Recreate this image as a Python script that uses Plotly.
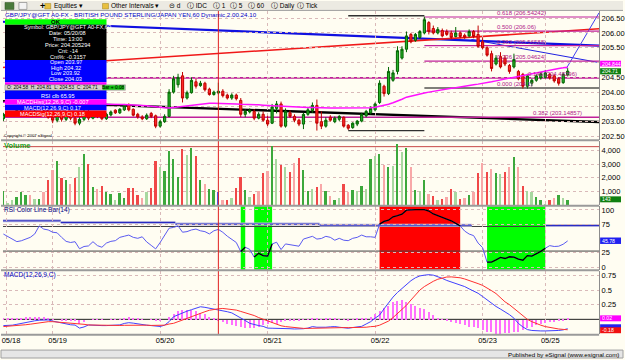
import plotly.graph_objects as go

# ---------------- DATA ----------------
date_labels = ["05/18", "05/19", "05/20", "05/21", "05/22", "05/23", "05/25"]
day_start_bar = [0.6, 11, 35, 59, 83, 107, 121]

opens = [
    203.10, 203.25, 203.28, 203.30, 203.38, 203.45, 203.50, 203.42, 203.46, 203.52,
    203.40, 203.15, 203.05, 203.30, 203.08, 203.22, 203.12, 202.95, 203.08, 203.35,
    203.12, 203.25, 203.18, 203.10, 203.23, 203.39, 203.30, 203.40, 203.56, 203.42,
    203.25, 203.16, 203.10, 203.28, 203.20, 202.85, 203.00, 203.18, 204.00, 204.25,
    204.55, 203.80, 203.98, 204.35, 204.22, 204.30, 204.10, 203.92, 203.97, 204.03,
    203.90, 203.80, 203.90, 203.72, 203.25, 203.33, 203.35, 203.12, 203.25, 203.05,
    202.95, 203.45, 203.60, 202.85, 203.30, 203.18, 203.05, 202.92, 203.25, 203.38,
    203.55, 203.00, 202.85, 203.15, 203.00, 203.08, 203.15, 202.88, 202.80, 202.92,
    203.02, 203.20, 203.30, 203.40, 203.65, 204.20, 203.95, 204.40, 204.70, 205.15,
    205.45, 205.95, 205.75, 205.85, 206.00, 206.35, 206.15, 206.00, 206.08, 206.05,
    206.00, 205.88, 206.00, 205.92, 205.90, 206.05, 205.95, 205.70, 205.50, 205.30,
    204.95, 205.20, 205.15, 204.90, 204.85, 204.70, 204.60, 204.20, 204.30, 204.40,
    204.48, 204.50, 204.60, 204.55, 204.45, 204.32, 204.58]
highs = [
    203.30, 203.32, 203.35, 203.42, 203.50, 203.55, 203.54, 203.50, 203.55, 203.56,
    203.45, 203.25, 203.40, 203.35, 203.30, 203.28, 203.18, 203.15, 203.45, 203.40,
    203.30, 203.30, 203.22, 203.30, 203.38, 203.42, 203.46, 203.60, 203.62, 203.45,
    203.30, 203.22, 203.28, 203.33, 203.24, 203.06, 203.25, 204.10, 204.55, 204.62,
    204.68, 204.05, 204.50, 204.45, 204.38, 204.35, 204.15, 204.05, 204.32, 204.10,
    203.95, 203.96, 203.95, 203.80, 203.42, 203.45, 203.42, 203.32, 203.35, 203.20,
    203.60, 203.70, 203.68, 203.45, 203.38, 203.25, 203.10, 203.30, 203.50, 203.65,
    203.75, 203.35, 203.15, 203.22, 203.18, 203.22, 203.18, 202.92, 202.98, 203.06,
    203.30, 203.40, 203.52, 203.65, 204.40, 204.25, 204.85, 204.75, 205.55, 205.55,
    206.05, 206.00, 206.00, 206.10, 206.55, 206.40, 206.25, 206.20, 206.15, 206.12,
    206.08, 206.20, 206.05, 205.98, 206.12, 206.10, 206.25, 205.85, 205.55, 205.40,
    205.25, 205.35, 205.25, 204.95, 205.30, 204.75, 204.65, 204.62, 204.45, 204.60,
    204.68, 204.75, 204.65, 204.60, 204.50, 204.66, 204.81]
lows = [
    203.02, 203.18, 203.20, 203.25, 203.32, 203.40, 203.38, 203.36, 203.40, 203.35,
    203.10, 202.95, 202.98, 203.00, 203.02, 203.05, 202.88, 202.88, 203.02, 203.05,
    203.08, 203.12, 203.05, 203.06, 203.18, 203.26, 203.26, 203.36, 203.35, 203.18,
    203.10, 203.05, 203.06, 203.12, 202.78, 202.80, 202.96, 203.15, 203.95, 204.15,
    203.65, 203.75, 203.95, 204.12, 204.18, 204.02, 203.88, 203.88, 203.92, 203.82,
    203.75, 203.74, 203.72, 203.16, 203.15, 203.28, 203.05, 203.08, 203.00, 202.85,
    202.92, 203.28, 202.80, 202.80, 203.12, 202.98, 202.85, 202.75, 203.20, 203.30,
    202.70, 202.75, 202.80, 203.00, 202.95, 203.02, 202.80, 202.72, 202.76, 202.85,
    202.98, 203.15, 203.25, 203.35, 203.60, 203.85, 203.90, 204.35, 204.60, 205.10,
    205.35, 205.65, 205.70, 205.80, 205.95, 205.95, 205.95, 205.95, 205.85, 205.90,
    205.80, 205.85, 205.82, 205.80, 205.85, 205.82, 205.50, 205.45, 205.20, 204.70,
    204.90, 204.80, 204.88, 204.62, 204.80, 204.40, 204.12, 204.12, 204.20, 204.35,
    204.42, 204.45, 204.42, 204.32, 204.22, 204.28, 204.53]
closes = [
    203.25, 203.28, 203.30, 203.38, 203.45, 203.50, 203.42, 203.46, 203.52, 203.40,
    203.15, 203.05, 203.30, 203.08, 203.22, 203.12, 202.95, 203.08, 203.35, 203.12,
    203.25, 203.18, 203.10, 203.25, 203.33, 203.30, 203.42, 203.55, 203.40, 203.22,
    203.16, 203.10, 203.22, 203.18, 202.85, 203.00, 203.18, 204.00, 204.45, 204.50,
    203.80, 203.98, 204.40, 204.20, 204.30, 204.08, 203.92, 204.00, 204.03, 203.88,
    203.80, 203.90, 203.78, 203.25, 203.35, 203.38, 203.12, 203.25, 203.05, 202.92,
    203.50, 203.60, 202.85, 203.35, 203.18, 203.05, 202.92, 203.25, 203.40, 203.55,
    202.95, 202.85, 203.05, 203.05, 203.12, 203.18, 202.85, 202.78, 202.95, 203.02,
    203.25, 203.35, 203.45, 203.60, 204.30, 203.95, 204.70, 204.65, 205.40, 205.45,
    205.90, 205.70, 205.95, 206.05, 206.45, 206.05, 206.00, 206.12, 205.90, 205.95,
    205.85, 206.00, 205.88, 205.85, 206.05, 205.88, 205.55, 205.50, 205.25, 204.80,
    205.15, 204.85, 204.95, 204.70, 205.10, 204.45, 204.20, 204.55, 204.40, 204.55,
    204.62, 204.65, 204.48, 204.38, 204.30, 204.60, 204.71]
ma_values = [
    203.66, 203.66, 203.65, 203.65, 203.65, 203.64, 203.64, 203.64, 203.63, 203.63,
    203.63, 203.62, 203.62, 203.62, 203.61, 203.61, 203.61, 203.60, 203.60, 203.60,
    203.60, 203.60, 203.59, 203.59, 203.59, 203.58, 203.58, 203.58, 203.57, 203.57,
    203.56, 203.55, 203.54, 203.53, 203.51, 203.49, 203.47, 203.46, 203.48, 203.50,
    203.52, 203.54, 203.56, 203.58, 203.60, 203.62, 203.62, 203.62, 203.62, 203.61,
    203.61, 203.60, 203.60, 203.59, 203.59, 203.58, 203.58, 203.57, 203.56, 203.55,
    203.54, 203.54, 203.53, 203.52, 203.52, 203.51, 203.50, 203.49, 203.48, 203.48,
    203.47, 203.47, 203.46, 203.46, 203.46, 203.46, 203.45, 203.45, 203.45, 203.46,
    203.46, 203.46, 203.47, 203.49, 203.52, 203.55, 203.59, 203.64, 203.69, 203.76,
    203.83, 203.87, 203.90, 203.93, 203.97, 204.00, 204.03, 204.06, 204.08, 204.10,
    204.13, 204.15, 204.18, 204.20, 204.23, 204.25, 204.27, 204.29, 204.32, 204.35,
    204.38, 204.41, 204.45, 204.48, 204.51, 204.55, 204.58, 204.61, 204.64, 204.67,
    204.70, 204.73, 204.76, 204.78, 204.80, 204.82, 204.844]
volume = [
    1070, 150, 420, 570, 1000, 780, 780, 490, 490, 1000,
    1820, 2590, 3250, 1990, 1870, 1580, 1990, 2760, 3730, 3050,
    1360, 1190, 1380, 980, 850, 370, 900, 510, 1240, 1290,
    780, 540, 980, 1240, 3270, 2830, 2540, 3990, 3390, 2040,
    4120, 3660, 4170, 3630, 1820, 1580, 1190, 1090, 950, 370,
    400, 540, 1270, 2040, 1140, 590, 830, 1020, 2350, 2540,
    4330, 3370, 2910, 2830, 2450, 3120, 3440, 2590, 1070, 1220,
    1300, 1560, 1020, 660, 420, 540, 1580, 1000, 1140, 1070,
    1430, 1190, 3390, 3630, 3730, 2910, 2830, 2880, 4450, 3900,
    4170, 2760, 1140, 1020, 1870, 850, 660, 350, 440, 590,
    1190, 1000, 490, 540, 780, 980, 2350, 3120, 2450, 2640,
    2350, 2250, 2400, 2830, 3560, 2790, 1380, 1070, 980, 590,
    350, 100, 370, 550, 780, 540, 420]
volume_kind = ("GggGGGrgGr" "RrGRGrRgGR" "GrRGGgGGRR" "RrgRRgGGGG" "RgGRGrGGBr"
               "RgRRGgRrRr" "GgRgRrRGGg" "RrGrGgRrGg" "GgGgGrGgGg" "GrGgGrRgRr"
               "RgRrGrRrRr" "GgRrGrRggG" "GgRrGgG")
rsi = [
    57.8, 53, 48, 44.5, 46, 49, 52, 58, 72, 66.5,
    65, 61, 60, 52, 45, 43, 44.4, 32, 36, 37,
    44.4, 37.5, 34.7, 42, 45, 46.2, 52, 54, 56, 52,
    50.3, 53, 44, 38, 31.8, 43, 55, 68, 69.4, 72,
    61, 62, 65, 66.5, 63.5, 62, 58, 63.5, 65.95, 60.8,
    54, 49, 43, 27.1, 34.7, 31, 17.4, 24, 20, 19.1,
    40.5, 43.4, 30.6, 40.5, 39.5, 38.7, 36.5, 49, 52, 53.8,
    49, 50, 53.8, 52, 47, 50.3, 47, 46.2, 50.3, 52,
    56, 53, 53, 52, 75.2, 79.9, 82, 88, 90, 92.5,
    99.5, 100.5, 100.7, 100.7, 100.5, 98, 93, 90, 87.5, 84,
    81, 77, 72, 63, 57.8, 55, 42, 34, 8.7, 8.7,
    12.5, 17, 15, 18, 17.5, 14, 12, 20, 19.1, 23,
    27.5, 33, 37.5, 36, 36.5, 40, 45.78]
rsi_zones = [(53, 54, "green"), (56, 60, "green"), (84, 102, "red"), (108, 121, "green")]
rsi_levels = [71, 28]
macd = [
    -0.107, -0.107, -0.10, -0.085, -0.068, -0.055, -0.035, -0.025, -0.015, -0.011,
    -0.011, -0.030, -0.045, -0.07, -0.085, -0.093, -0.098, -0.15, -0.13, -0.096,
    -0.10, -0.107, -0.107, -0.107, -0.105, -0.100, -0.095, -0.07, -0.057, -0.065,
    -0.08, -0.095, -0.10, -0.107, -0.115, -0.122, -0.10, -0.04, 0.045, 0.08,
    0.11, 0.14, 0.165, 0.19, 0.215, 0.205, 0.19, 0.18, 0.17, 0.15,
    0.13, 0.11, 0.07, 0.017, -0.02, -0.068, -0.09, -0.107, -0.12, -0.15,
    -0.152, -0.152, -0.155, -0.155, -0.16, -0.165, -0.169, -0.16, -0.15, -0.124,
    -0.135, -0.14, -0.135, -0.128, -0.124, -0.135, -0.145, -0.152, -0.14, -0.13,
    -0.12, -0.08, -0.04, 0.02, 0.073, 0.18, 0.29, 0.38, 0.46, 0.53,
    0.60, 0.66, 0.71, 0.742, 0.755, 0.763, 0.755, 0.73, 0.70, 0.665,
    0.64, 0.61, 0.585, 0.56, 0.52, 0.48, 0.445, 0.39, 0.33, 0.27,
    0.22, 0.175, 0.13, 0.08, 0.02, -0.07, -0.13, -0.175, -0.19, -0.198,
    -0.198, -0.198, -0.198, -0.195, -0.19, -0.18, -0.16]
macd_signal = [
    -0.124, -0.12, -0.115, -0.108, -0.10, -0.092, -0.083, -0.070, -0.058, -0.048,
    -0.040, -0.040, -0.045, -0.051, -0.058, -0.064, -0.070, -0.078, -0.085, -0.096,
    -0.098, -0.102, -0.105, -0.107, -0.107, -0.106, -0.105, -0.102, -0.10, -0.10,
    -0.10, -0.10, -0.10, -0.104, -0.107, -0.107, -0.100, -0.080, -0.068, -0.04,
    -0.01, 0.017, 0.045, 0.08, 0.102, 0.13, 0.155, 0.172, 0.18, 0.186,
    0.18, 0.17, 0.158, 0.135, 0.115, 0.09, 0.065, 0.03, 0.0, -0.03,
    -0.06, -0.085, -0.11, -0.124, -0.135, -0.145, -0.152, -0.155, -0.155, -0.152,
    -0.152, -0.150, -0.147, -0.144, -0.142, -0.141, -0.141, -0.142, -0.143, -0.142,
    -0.14, -0.135, -0.125, -0.12, -0.10, -0.07, -0.03, 0.03, 0.10, 0.17,
    0.24, 0.33, 0.42, 0.50, 0.56, 0.61, 0.65, 0.685, 0.71, 0.723,
    0.725, 0.72, 0.71, 0.69, 0.667, 0.64, 0.61, 0.58, 0.54, 0.49,
    0.44, 0.37, 0.30, 0.25, 0.19, 0.12, 0.06, 0.0, -0.04, -0.075,
    -0.10, -0.124, -0.14, -0.155, -0.165, -0.172, -0.178]
macd_hist = [
    0.017, 0.013, 0.015, 0.023, 0.032, 0.037, 0.048, 0.045, 0.043, 0.037,
    0.029, 0.010, 0.0, -0.019, -0.027, -0.029, -0.028, -0.072, -0.045, 0.0,
    -0.002, -0.005, -0.002, 0.0, 0.002, 0.006, 0.010, 0.032, 0.043, 0.035,
    0.020, 0.005, 0.0, -0.003, -0.008, -0.015, 0.0, 0.04, 0.10, 0.14,
    0.17, 0.17, 0.16, 0.14, 0.12, 0.09, 0.05, 0.02, -0.007, -0.04,
    -0.07, -0.09, -0.11, -0.13, -0.14, -0.15, -0.14, -0.12, -0.10, -0.08,
    -0.06, -0.067, -0.045, -0.031, -0.025, -0.02, -0.017, -0.005, 0.005, 0.028,
    0.017, 0.01, 0.012, 0.016, 0.018, 0.006, -0.004, -0.01, 0.003, 0.012,
    0.02, 0.02, 0.045, 0.10, 0.14, 0.20, 0.24, 0.30, 0.32, 0.33,
    0.30, 0.27, 0.24, 0.20, 0.18, 0.13, 0.073, 0.03, 0.006, -0.02,
    -0.04, -0.05, -0.08, -0.10, -0.12, -0.12, -0.14, -0.18, -0.21, -0.22,
    -0.24, -0.24, -0.23, -0.23, -0.21, -0.21, -0.18, -0.15, -0.12, -0.10,
    -0.07, -0.05, -0.04, -0.035, -0.03, -0.01, 0.02]
cursor_bar = 48

# drawn trendlines: (bar0, price0, bar1, price1, color, width)
trendlines = [
    (-0.5, 206.38, 133.0, 205.57, "#1010E0", 2.2),
    (-0.5, 204.83, 133.0, 206.14, "#F01818", 1.6),
    (-0.5, 203.69, 133.0, 202.99, "#000000", 2.4),
    (104.5, 205.78, 133.0, 205.00, "#2020E0", 1.0),
    (125.7, 204.80, 133.0, 206.68, "#4040F0", 1.0),
]
# horizontal drawn levels: (bar0, bar1, price, color, width)
hlevels = [
    (-0.5, 133.0, 204.48, "#C0209A", 1.6),
    (-0.5, 133.0, 203.15, "#C0209A", 1.6),
    (77, 94, 206.58, "#303030", 1.4),
    (77, 94, 202.70, "#303030", 1.4),
    (94, 133.0, 206.54, "#C0209A", 1.2),
    (94, 133.0, 206.06, "#C0209A", 1.2),
    (94, 133.0, 205.57, "#C0209A", 1.2),
    (94, 133.0, 205.05, "#C0209A", 1.2),
    (94, 133.0, 204.14, "#000000", 1.2),
]
fib_labels = [
    (110, 206.54, "0.618 (206.54242)"), (110, 206.06, "0.500 (206.06)"),
    (110, 205.57, "0.382 (205.56588)"), (110, 205.05, "0.236 (205.04624)"),
    (110, 204.14, "0.000 (204.1)"), (117, 204.48, "0.146 (204.48296)"),
    (118, 203.15, "0.382 (203.14857)"),
]
# ---------------- LAYOUT HELPERS ----------------
W, H = 625, 360
FONT = "Liberation Sans"
BG = "#FFFDF2"
GRID = "#D9B9B9"


def px(x):
    return x / W


def py(y):
    return 1 - y / H


N = len(closes)
bars = list(range(N))
xr = [-0.09, 133.02]

fig = go.Figure()
fig.add_trace(go.Candlestick(
    x=bars, open=opens, high=highs, low=lows, close=closes, xaxis="x", yaxis="y",
    increasing=dict(line=dict(color="#006400", width=1), fillcolor="#28B028"),
    decreasing=dict(line=dict(color="#C00000", width=1), fillcolor="#FF2828"),
    whiskerwidth=0, showlegend=False, hoverinfo="skip"))
fig.add_trace(go.Scatter(x=bars, y=ma_values, mode="lines", xaxis="x", yaxis="y",
                         line=dict(color="#FF10FF", width=1.5), showlegend=False, hoverinfo="skip"))

vcol = {"G": "#3CA83C", "g": "#A8D8A0", "R": "#F04848", "r": "#F8A8A8", "B": "#4060FF"}
fig.add_trace(go.Bar(x=bars, y=volume, marker=dict(color=[vcol[k] for k in volume_kind], line=dict(width=0)),
                     width=0.4, xaxis="x2", yaxis="y2", showlegend=False, hoverinfo="skip"))

fig.add_trace(go.Scatter(x=bars, y=rsi, mode="lines", xaxis="x3", yaxis="y3",
                         line=dict(color="#5A5AF0", width=1), showlegend=False, hoverinfo="skip"))
for z0, z1, _c in rsi_zones:
    fig.add_trace(go.Scatter(x=bars[z0:z1 + 1], y=rsi[z0:z1 + 1], mode="lines", xaxis="x3", yaxis="y3",
                             line=dict(color="#000000", width=1.3), showlegend=False, hoverinfo="skip"))

fig.add_trace(go.Bar(x=bars, y=macd_hist, marker=dict(color="#FF70FF", line=dict(width=0)), width=0.26,
                     xaxis="x4", yaxis="y4", showlegend=False, hoverinfo="skip"))
fig.add_trace(go.Scatter(x=bars, y=macd, mode="lines", xaxis="x4", yaxis="y4",
                         line=dict(color="#4040FF", width=1), showlegend=False, hoverinfo="skip"))
fig.add_trace(go.Scatter(x=bars, y=macd_signal, mode="lines", xaxis="x4", yaxis="y4",
                         line=dict(color="#FF3030", width=1), showlegend=False, hoverinfo="skip"))


def xax(anchor, labels=False):
    d = dict(domain=[px(2), px(601)], range=xr, anchor=anchor, showgrid=True, gridcolor=GRID,
             griddash="dot", gridwidth=1, tickmode="array", tickvals=day_start_bar,
             ticktext=date_labels, showticklabels=labels, ticks="", zeroline=False,
             showline=False, fixedrange=True,
             tickfont=dict(size=7.5, color="#000000", family=FONT))
    if labels:
        d["ticklabelshift"] = 5
    if anchor != "y4":
        d["matches"] = "x4"
    return d


def yax(anchor, domain, rng, vals, texts):
    return dict(domain=domain, range=rng, anchor=anchor, side="right", tickmode="array",
                tickvals=vals, ticktext=texts, showgrid=True, gridcolor=GRID, griddash="dot",
                zeroline=False, showline=True, linecolor="#8C8C8C", linewidth=1, ticks="",
                tickfont=dict(size=7.5, color="#000000", family=FONT), fixedrange=True)


price_ticks = [202.5, 203.0, 203.5, 204.0, 204.5, 205.0, 205.5, 206.0, 206.5]
hidden_price_ticks = [205.0]   # covered by the moving-average value flag in the original
vol_ticks = [1000, 2000, 3000, 4000]
rsi_ticks = [0, 25, 75, 100]
macd_ticks = [0.25, 0.5, 0.75]

fig.update_layout(
    width=W, height=H, margin=dict(l=0, r=0, t=0, b=0),
    paper_bgcolor=BG, plot_bgcolor=BG, showlegend=False, bargap=0,
    font=dict(family=FONT, size=7.5, color="#000000"),
    xaxis=dict(xax("y"), rangeslider=dict(visible=False)),
    xaxis2=xax("y2"), xaxis3=xax("y3"), xaxis4=xax("y4", labels=True),
    yaxis=yax("x", [py(140), py(10)], [202.387, 206.745], price_ticks,
              ["" if v in hidden_price_ticks else "%.2f" % v for v in price_ticks]),
    yaxis2=yax("x2", [py(206), py(141)], [-14, 4696], vol_ticks,
               ["{:,}".format(v) for v in vol_ticks]),
    yaxis3=yax("x3", [py(271), py(207)], [-4.7, 106.4], rsi_ticks, [str(v) for v in rsi_ticks]),
    yaxis4=yax("x4", [py(336), py(272)], [-0.254, 0.8305], macd_ticks,
               ["0.25", "0.5", "0.75"]),
)

shapes = []
# RSI colour zones
for z0, z1, c in rsi_zones:
    shapes.append(dict(type="rect", xref="x3", yref="y3 domain", x0=z0, x1=z1, y0=0, y1=1,
                       fillcolor="#00FF00" if c == "green" else "#FF0000", line=dict(width=0), layer="below"))
for lv in rsi_levels:
    shapes.append(dict(type="line", xref="x3 domain", yref="y3", x0=0, x1=1, y0=lv, y1=lv,
                       line=dict(color="#404040", width=1), layer="below"))
# RSI dynamic threshold (blue stepped line)
for b0, b1, v in [(-0.5, 12.8, 80.9), (12.8, 38.4, 78.1), (38.4, 70.6, 75.2), (70.6, 104.6, 73.4), (121, 133, 72.6)]:
    shapes.append(dict(type="line", xref="x3", yref="y3", x0=b0, x1=b1, y0=v, y1=v,
                       line=dict(color="#B8B8E0", width=3), layer="below"))
    shapes.append(dict(type="line", xref="x3", yref="y3", x0=b0, x1=b1, y0=v, y1=v,
                       line=dict(color="#2020C0", width=1), layer="below"))
# MACD zero line
shapes.append(dict(type="line", xref="x4 domain", yref="y4", x0=0, x1=1, y0=0, y1=0,
                   line=dict(color="#202020", width=1), layer="below"))
# volume reference line
shapes.append(dict(type="line", xref="x2 domain", yref="y2", x0=0, x1=1, y0=4270, y1=4270,
                   line=dict(color="#C84848", width=1), layer="below"))
# price drawings
for b0, p0, b1, p1, c, w in trendlines:
    shapes.append(dict(type="line", xref="x", yref="y", x0=b0, y0=p0, x1=b1, y1=p1,
                       line=dict(color=c, width=w), layer="below"))
for b0, b1, p, c, w in hlevels:
    shapes.append(dict(type="line", xref="x", yref="y", x0=b0, y0=p, x1=b1, y1=p,
                       line=dict(color=c, width=w), layer="below"))
# cursor
shapes.append(dict(type="line", xref="x", yref="paper", x0=cursor_bar, x1=cursor_bar, y0=py(336), y1=py(10),
                   line=dict(color="#E02020", width=1), layer="above"))
# panel separators
for yy in [140.5, 206.5, 271.5, 336.5]:
    shapes.append(dict(type="line", xref="paper", yref="paper", x0=0, x1=px(601), y0=py(yy), y1=py(yy),
                       line=dict(color="#9A9A9A", width=2)))
# toolbar and footer
shapes.append(dict(type="rect", xref="paper", yref="paper", x0=0, x1=1, y0=py(9.5), y1=1,
                   fillcolor="#ECEAE2", line=dict(width=0)))
shapes.append(dict(type="line", xref="paper", yref="paper", x0=0, x1=1, y0=py(9.5), y1=py(9.5),
                   line=dict(color="#A0A0A0", width=1)))
shapes.append(dict(type="rect", xref="paper", yref="paper", x0=0, x1=1, y0=0, y1=py(352),
                   fillcolor="#E6E6E6", line=dict(color="#A0A0A0", width=1)))

# info window
info_rows = [
    (18.5, 24.0, "#00FF00"), (24.0, 59.5, "#000000"), (59.5, 82.0, "#0000FF"),
    (82.0, 85.0, "#FF00FF"), (89.5, 99.0, "#0000FF"), (99.0, 104.5, "#FF00FF"),
    (104.5, 110.5, "#0000FF"), (110.5, 117.0, "#FF0000"),
]
for y0, y1, c in info_rows:
    shapes.append(dict(type="rect", xref="paper", yref="paper", x0=px(4), x1=px(106), y0=py(y1), y1=py(y0),
                       fillcolor=c, line=dict(width=0), layer="above"))
shapes.append(dict(type="rect", xref="paper", yref="paper", x0=px(4), x1=px(125), y0=py(90), y1=py(84.5),
                   fillcolor="#D8D5CC", line=dict(color="#808080", width=0.5), layer="above"))
shapes.append(dict(type="rect", xref="paper", yref="paper", x0=px(102), x1=px(124), y0=py(89.5), y1=py(85),
                   fillcolor="#10C010", line=dict(width=0), layer="above"))
# right-hand value flag boxes
flag_boxes = [(60.2, 66.0, "#FF00FF"), (67.8, 74.0, "#108010"), (197.0, 203.0, "#108010"),
              (238.5, 245.0, "#2020F0"), (317.0, 323.0, "#FF00FF"), (326.0, 330.0, "#2020F0"),
              (329.0, 335.0, "#F01010")]
for y0, y1, c in flag_boxes:
    shapes.append(dict(type="rect", xref="paper", yref="paper", x0=px(602), x1=px(623), y0=py(y1), y1=py(y0),
                       fillcolor=c, line=dict(width=0), layer="above"))
fig.update_layout(shapes=shapes)

ann = []


def txt(x, y, s, color="#000000", size=6.5, anchor="left", bold=False):
    ann.append(dict(xref="paper", yref="paper", x=px(x), y=py(y), text=("<b>%s</b>" % s) if bold else s,
                    showarrow=False, xanchor=anchor, yanchor="middle",
                    font=dict(size=size, color=color, family=FONT), borderpad=0))


# toolbar
txt(38, 5, "+", size=9, bold=True)
for x, s in [(52, "Equities ▾"), (110, "Other Intervals ▾"), (168, "⊝ d"), (186, "ⓘ IDC"),
             (212, "ⓘ 1"), (229, "ⓘ 5"), (247, "ⓘ 60"), (270, "ⓘ Daily"), (296, "ⓘ Tick")]:
    txt(x, 5, s, size=6.5)
for x, c in [(44, "#E8C040"), (102, "#E8C040")]:
    fig.add_shape(type="rect", xref="paper", yref="paper", x0=px(x), x1=px(x + 6), y0=py(8), y1=py(2.5),
                  fillcolor=c, line=dict(color="#A08020", width=0.5))
fig.add_shape(type="rect", xref="paper", yref="paper", x0=px(4), x1=px(13), y0=py(8.5), y1=py(1.5),
              fillcolor="#4A7A3A", line=dict(color="#305020", width=0.5))
fig.add_shape(type="rect", xref="paper", yref="paper", x0=px(18), x1=px(26), y0=py(8.5), y1=py(1.5),
              fillcolor="#F4F4F4", line=dict(color="#606060", width=0.5))

# title
txt(3, 13.5, "GBP/JPY@GFT A0-FX - BRITISH POUND STERLING/JAPAN YEN,60 Dynamic,2.00.24.10",
    color="#0000C8", size=6.2)
# info window text
txt(55, 21.2, "OK", size=6, bold=True, anchor="center")
for y, s in [(26.7, "Symbol: GBP/JPY@GFT A0-FX,60"), (32.6, "Date: 05/20/08"), (38.6, "Time: 13:00"),
             (44.6, "Price: 204.205294"), (50.5, "Cnt: -14"), (56.3, "Cnt%: -0.3157")]:
    txt(67, y, s, color="#FFFFFF", size=5.6, anchor="center")
for y, s in [(62.0, "Open 203.97"), (67.5, "High 204.32"), (73.0, "Low 203.92"), (78.5, "Close 204.03")]:
    txt(65, y, s, color="#FFFFFF", size=5.6, anchor="center")
txt(5, 87.3, "O: 204.58  H: 204.81  L: 204.53  C: 204.71", size=4.8)
txt(113, 87.3, "Bar + 0.08", size=4.8, anchor="center")
txt(57, 95.8, "RSI clb 65.95", color="#FFFFFF", size=5.6, anchor="center")
txt(52, 101.8, "MACDHist(12,26,9,C) -0.007", color="#FFFFFF", size=5.6, anchor="center")
txt(52, 107.5, "MACD(12,26,9,C) 0.17", color="#FFFFFF", size=5.6, anchor="center")
txt(52, 113.7, "MACDSig(12,26,9,C) 0.18", color="#FFFFFF", size=5.6, anchor="center")

# panel headers
txt(2, 135.5, "Copyright © 2007 eSignal", size=4.2)
txt(2, 145.5, "Volume", color="#20A020", size=7.5, bold=True)
txt(2, 210.5, "RSI Color Line Bar(14)", color="#000080", size=6.5)
txt(2, 276, "MACD(12,26,9,C)", color="#0000C0", size=6.5)
txt(622, 356, "Published by eSignal (www.esignal.com)", size=6.2, anchor="right")

# fib labels
for b, p, s in fib_labels:
    ann.append(dict(xref="x", yref="y", x=b, y=p, text=s, showarrow=False, xanchor="left",
                    yanchor="bottom", font=dict(size=6, color="#B0208A", family=FONT), borderpad=0))

# right-hand value flag texts
for y, s in [(63.1, "204.844"), (70.9, "204.71"), (200, "143"), (241.7, "45.78"), (320, "0.02"), (332, "-0.18")]:
    txt(603, y, s, color="#FFFFFF", size=5.2)

fig.update_layout(annotations=ann)
fig.write_html("out.html")
